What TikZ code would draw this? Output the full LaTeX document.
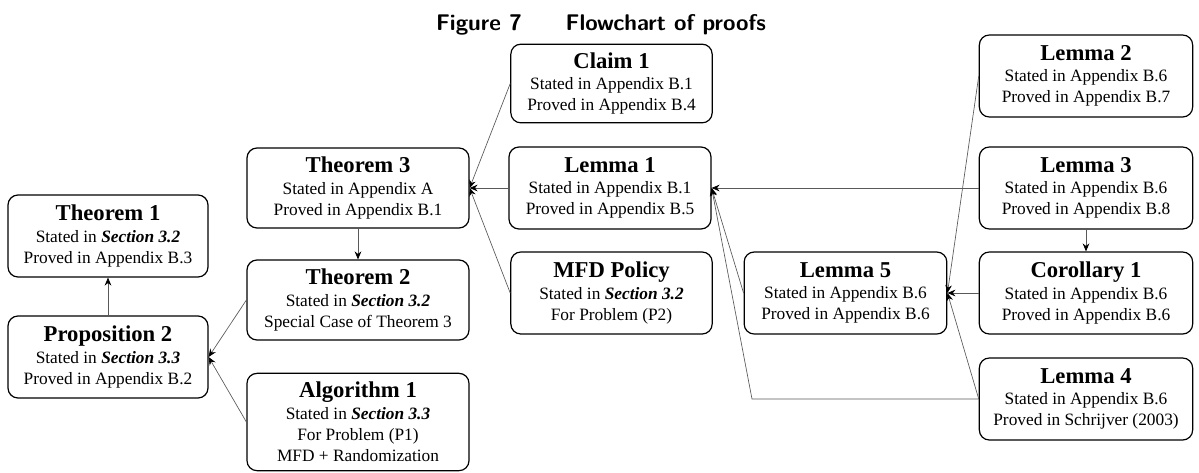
\documentclass[tikz,border=0pt]{standalone}
\usepackage{fontspec}
\setmainfont{Liberation Serif}
\usetikzlibrary{arrows.meta}

\newcommand{\boxhead}[1]{{\fontsize{17}{16}\selectfont\bfseries #1}}
\newcommand{\boxsec}[1]{\textbf{\textit{Section #1}}}

\begin{document}
\begin{tikzpicture}[x=0.75pt,y=-0.75pt,
		proofbox/.style={shape=rectangle, draw=black, line width=0.9pt, rounded corners=7.5pt, align=center, font=\fontsize{13}{16}\selectfont, inner sep=0pt, minimum height=61.5pt},
		link/.style={-{Stealth[length=6pt,width=5pt,black]}, draw=black!65, line width=0.5pt}]
		\useasboundingbox (0,0) rectangle (1199,472);
		\draw (601,30) node[anchor=base, font=\sffamily\bfseries\fontsize{17}{20}\selectfont](caption){Figure 7\hspace{33pt}Flowchart of proofs};
		% left column
		\draw (108,236) node[proofbox, minimum width=150pt](thmone){\boxhead{Theorem 1}\\ Stated in \boxsec{3.2}\\ Proved in Appendix B.3};
		\draw (108,357) node[proofbox, minimum width=150pt](proptwo){\boxhead{Proposition 2}\\ Stated in \boxsec{3.3}\\ Proved in Appendix B.2};
		% theorems and algorithm
		\draw (358,188) node[proofbox, minimum width=166.5pt, minimum height=60pt](thmthree){\boxhead{Theorem 3}\\ Stated in Appendix A\\ Proved in Appendix B.1};
		\draw (358,300) node[proofbox, minimum width=166.5pt, minimum height=60pt](thmtwo){\boxhead{Theorem 2}\\ Stated in \boxsec{3.2}\\ Special Case of Theorem 3};
		\draw (358,422) node[proofbox, minimum width=166.5pt, minimum height=73pt](algone){\boxhead{Algorithm 1}\\ Stated in \boxsec{3.3}\\ For Problem (P1)\\ MFD + Randomization};
		% middle column
		\draw (611.5,83.5) node[proofbox, minimum width=151pt, minimum height=59pt](claimone){\boxhead{Claim 1}\\ Stated in Appendix B.1\\ Proved in Appendix B.4};
		\draw (610,188) node[proofbox, minimum width=151.5pt](lemmaone){\boxhead{Lemma 1}\\ Stated in Appendix B.1\\ Proved in Appendix B.5};
		\draw (611.5,293) node[proofbox, minimum width=151pt](mfd){\boxhead{MFD Policy}\\ Stated in \boxsec{3.2}\\ For Problem (P2)};
		\draw (845.5,293) node[proofbox, minimum width=152pt](lemmafive){\boxhead{Lemma 5}\\ Stated in Appendix B.6\\ Proved in Appendix B.6};
		% right column
		\draw (1086,76) node[proofbox, minimum width=160pt](lemmatwo){\boxhead{Lemma 2}\\ Stated in Appendix B.6\\ Proved in Appendix B.7};
		\draw (1086,188) node[proofbox, minimum width=160pt](lemmathree){\boxhead{Lemma 3}\\ Stated in Appendix B.6\\ Proved in Appendix B.8};
		\draw (1086,293) node[proofbox, minimum width=160pt](corone){\boxhead{Corollary 1}\\ Stated in Appendix B.6\\ Proved in Appendix B.6};
		\draw (1086,399) node[proofbox, minimum width=160pt](lemmafour){\boxhead{Lemma 4}\\ Stated in Appendix B.6\\ Proved in Schrijver (2003)};
		% dependencies
		\draw[link] (claimone.west) -- (thmthree.east);
		\draw[link] (lemmaone.west) -- (thmthree.east);
		\draw[link] (mfd.west) -- (thmthree.east);
		\draw[link] (thmthree) -- (thmtwo);
		\draw[link] (thmtwo.west) -- (proptwo.east);
		\draw[link] (algone.west) -- (proptwo.east);
		\draw[link] (proptwo) -- (thmone);
		\draw[link] (lemmathree.west) -- (lemmaone.east);
		\draw[link] (lemmafive.west) -- (lemmaone.east);
		\coordinate (bend) at (752,399);
		\draw[link] (lemmafour.west) -- (bend) -- (lemmaone.east);
		\draw[link] (lemmatwo.west) -- (lemmafive.east);
		\draw[link] (corone.west) -- (lemmafive.east);
		\draw[link] (lemmafour.west) -- (lemmafive.east);
		\draw[link] (lemmathree) -- (corone);
	\end{tikzpicture}
\end{document}
